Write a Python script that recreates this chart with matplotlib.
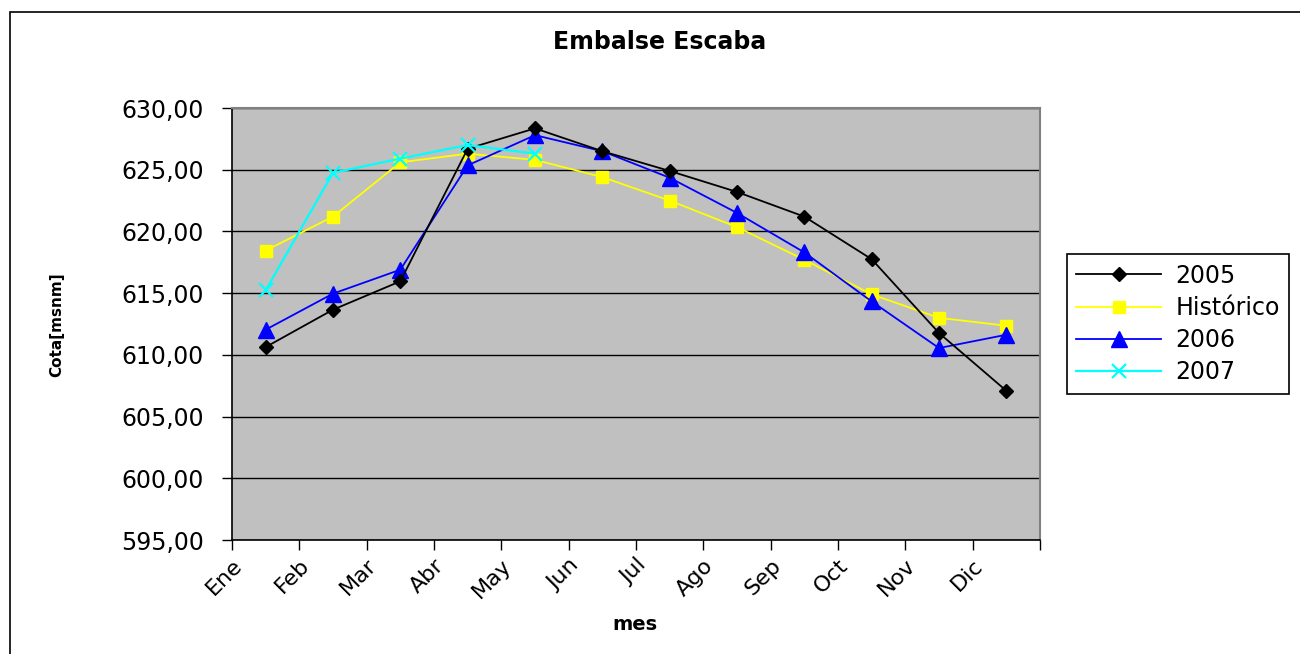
import matplotlib
matplotlib.use("Agg")
import matplotlib.pyplot as plt
from matplotlib.patches import Rectangle
from matplotlib.ticker import FuncFormatter, FixedLocator
import numpy as np

months = ["Ene", "Feb", "Mar", "Abr", "May", "Jun", "Jul", "Ago", "Sep", "Oct", "Nov", "Dic"]
s2005 = [610.63, 613.66, 615.96, 626.7, 628.35, 626.5, 624.9, 623.2, 621.2, 617.75, 611.77, 607.09]
historico = [618.45, 621.2, 625.6, 626.3, 625.8, 624.4, 622.5, 620.35, 617.7, 614.9, 613.0, 612.36]
s2006 = [612.04, 614.96, 616.9, 625.35, 627.8, 626.5, 624.35, 621.5, 618.3, 614.33, 610.55, 611.63]
s2007 = [615.23, 624.75, 625.9, 627.0, 626.3]

plt.rcParams['font.family'] = ['DejaVu Sans']

fig = plt.figure(figsize=(13, 6.54), dpi=100)
fig.patch.set_facecolor('white')
# outer frame (left and top edges visible)
fig.patches.append(Rectangle((10/1300, -0.1), 1.2, 1 - 12/654 + 0.1, transform=fig.transFigure,
                             fill=False, edgecolor='black', linewidth=1.2))

ax = fig.add_axes([232/1300, 1 - 540/654, (1040-232)/1300, (540-108)/654])
ax.set_facecolor('#C0C0C0')

n = len(months)
x = np.arange(n) + 0.5
ax.plot(x, s2005, color='black', lw=1.3, marker='D', ms=7, mfc='black', mec='black', label='2005', zorder=5)
ax.plot(x, historico, color='#FFFF00', lw=1.3, marker='s', ms=9, mfc='#FFFF00', mec='#FFFF00', label='Histórico', zorder=3)
ax.plot(x, s2006, color='#0000FF', lw=1.3, marker='^', ms=11, mfc='#0000FF', mec='#0000FF', label='2006', zorder=4)
ax.plot(x[:len(s2007)], s2007, color='#00FFFF', lw=1.6, marker='x', ms=10, mew=1.6, label='2007', zorder=6)

ax.set_xlim(0, n)
ax.set_ylim(595, 630)
ax.yaxis.set_major_locator(FixedLocator(np.arange(595, 630.1, 5)))
ax.yaxis.set_major_formatter(FuncFormatter(lambda v, p: f"{v:.2f}".replace('.', ',')))
ax.grid(axis='y', color='black', lw=1)
ax.set_axisbelow(True)

ax.set_xticks(np.arange(n + 1))
ax.set_xticklabels(months + [""], rotation=45, ha='right', rotation_mode='anchor', fontsize=16)
ax.tick_params(axis='x', length=7, width=1, direction='out', pad=4)
ax.tick_params(axis='y', length=7.2, width=1, direction='out', labelsize=17, pad=13)

for side in ['left', 'bottom']:
    ax.spines[side].set_color('black')
    ax.spines[side].set_linewidth(1.2)
for side in ['top', 'right']:
    ax.spines[side].set_color('#808080')
    ax.spines[side].set_linewidth(1.5)

fig.text(660/1300, 1 - 42/654, "Embalse Escaba", ha='center', va='center', fontsize=17, fontweight='bold')
fig.text(57/1300, 1 - 325/654, "Cota[msnm]", ha='center', va='center', rotation=90, fontsize=11, fontweight='bold')
fig.text(635/1300, 1 - 625/654, "mes", ha='center', va='center', fontsize=14, fontweight='bold')

leg = ax.legend(loc='center left', bbox_to_anchor=(1067/1300, 1 - 324/654), bbox_transform=fig.transFigure,
                fontsize=17, frameon=True, fancybox=False, edgecolor='black', framealpha=1,
                handlelength=3.6, handletextpad=0.6, borderpad=0.4, labelspacing=0.35, borderaxespad=0)
leg.get_frame().set_linewidth(1.2)

fig.savefig("out.png", dpi=100, facecolor='white')
